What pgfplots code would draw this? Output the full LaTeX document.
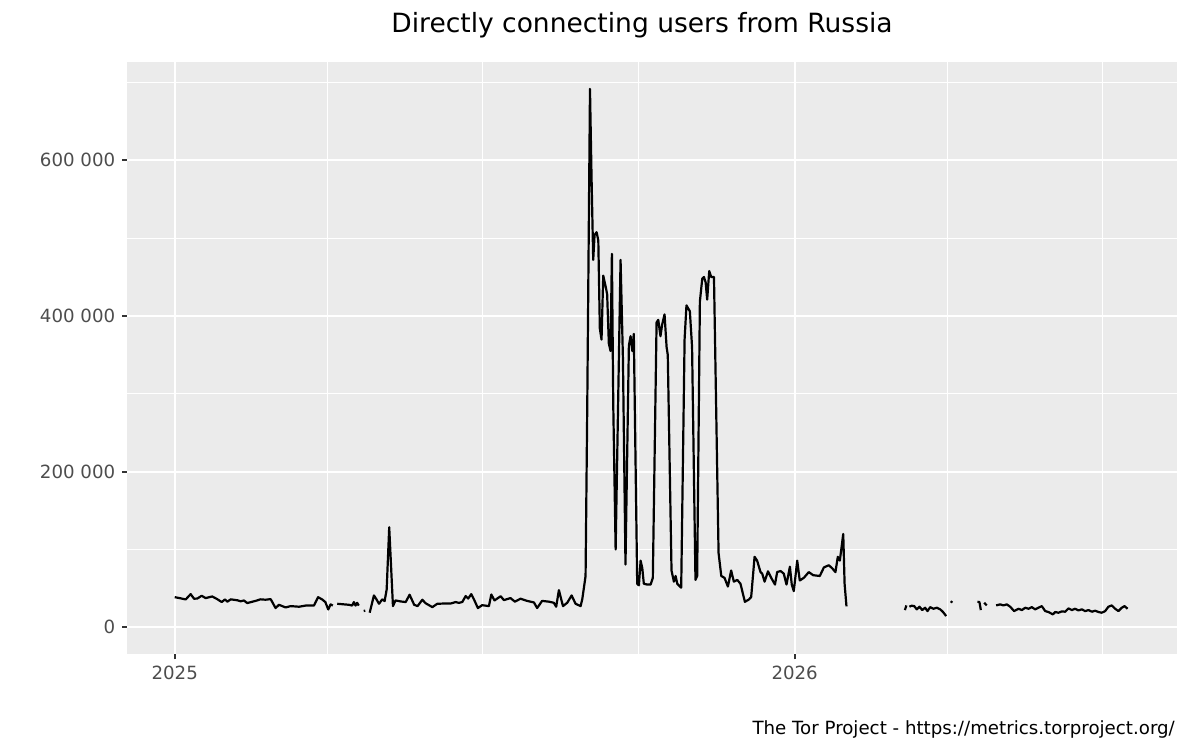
\documentclass[border=0pt]{standalone}
\usepackage{fontspec}
\setmainfont{DejaVu Sans}
\usepackage{pgfplots}
\pgfplotsset{compat=1.18}
\definecolor{panelgray}{HTML}{EBEBEB}
\definecolor{labelgray}{HTML}{4D4D4D}
\definecolor{tickgray}{HTML}{333333}
\begin{document}
\begin{tikzpicture}[x=1pt,y=1pt]
\useasboundingbox (0,0) rectangle (600,375);
\begin{axis}[
  at={(63.65pt,47.85pt)}, anchor=south west,
  scale only axis, width=524.85pt, height=296.3pt,
  xmin=-27.9, xmax=590.1, ymin=-34600, ymax=726600,
  axis background/.style={fill=panelgray},
  axis line style={draw=none},
  xtick={0,365}, xticklabels={2025,2026},
  minor xtick={90,181,273,455,546},
  ytick={0,200000,400000,600000},
  yticklabels={0,200 000,400 000,600 000},
  minor ytick={100000,300000,500000,700000},
  scaled y ticks=false,
  grid=both,
  major grid style={white, line width=1.05pt},
  minor grid style={white, line width=0.55pt},
  xtick pos=left, ytick pos=left,
  tick align=outside,
  major tick length=2.5pt, minor tick length=0pt,
  major tick style={line width=1pt, color=tickgray},
  ticklabel style={font=\fontsize{9.1}{10}\selectfont, color=labelgray},
  unbounded coords=jump,
]
\addplot[black, line width=1.1pt, line join=round] coordinates {
(0,38800) (3,37500) (6.5,35900) (9.4,42700) (11.4,36800) (13.3,37000) (15.9,40600)
(18.2,37600) (22.1,39700) (25,36300) (27.7,32500) (29.6,35900) (31,33000) (33,36000)
(36.9,34800) (38.8,33500) (40.8,34500) (42.7,31200) (47.6,34000) (50.5,36000)
(53.5,35500) (56.5,36300) (59.4,24800) (61.4,29000) (65.3,25600) (68.3,27300)
(73.2,26500) (77.1,28000) (82,28000) (84.4,38800) (86.8,35900) (88.7,32500)
(90.4,23000) (91.8,29500) (93.1,28000)
(94.4,nan)
(95.7,30300) (102.6,29000) (104.5,28000) (105.5,32500) (106.5,28000) (107.4,31500) (108.4,28000)
(110,nan)
(111.3,21000) (112.2,21500)
(113.5,nan)
(114.8,18800) (117.3,41000) (118.7,36300) (120.3,30300) (122.2,36000) (123.6,33800)
(124.8,48700) (126.3,128600) (128.5,27300) (130,34600) (133,33300) (136,32500)
(138.3,41900) (141,29000) (143,27300) (145.8,35500) (147.7,31000) (151.7,26000)
(154.6,30300) (158.5,30600) (162.4,30600) (165.4,32500) (167.3,31500) (169.3,32500)
(171.3,40200) (172.8,37000) (174.6,42700) (176.2,35900) (178.5,24800) (181,28500)
(185,27300) (186.4,42200) (188.3,34600) (191.9,40000) (193.8,35000) (197.7,37600)
(200.3,33000) (203.6,36800) (207.5,34000) (211.5,32000) (213.4,24800) (216.3,34000)
(220.3,33000) (223.2,31600) (224.6,26500) (226.2,47800) (228.6,27300) (231.1,31600)
(233.7,41000) (236,30300) (239,27300) (240,36700) (241.9,66000) (242.9,286000)
(244.5,691700) (245.4,580000) (246.4,472000) (247.2,504000) (248.4,507600)
(249.4,497000) (250.3,384000) (251.3,369600) (252.3,451800) (253.7,438000)
(254.6,428000) (255.6,364700) (256.6,355000) (257.4,479700) (258.2,286000)
(259.6,100000) (262.5,472000) (263.9,345000) (265.4,80800) (267.4,362000)
(268.4,374000) (269.4,355000) (270.3,377000) (272.3,56000) (273.3,54000)
(274.3,85700) (275.3,75900) (276.2,56000) (278.2,55000) (280.2,55000) (281.5,63600)
(283.7,391600) (284.7,395000) (286,374000) (287,389000) (288.4,402000) (289.6,360000)
(290.3,350000) (292.5,73000) (293.9,58700) (294.9,66000) (295.9,56000) (298.2,51000)
(300.2,370000) (301.3,413600) (303.3,406000) (304.6,360000) (306.6,61000) (307.6,66000)
(309.2,418500) (310.6,448000) (311.6,450000) (312.6,443000) (313.5,421000)
(314.7,457700) (315.9,450000) (317.5,450000) (320.2,95500) (321.8,66000)
(323.7,63600) (325.7,52400) (327.6,73000) (329.2,58700) (331.2,61000) (333.1,56000)
(335.7,32800) (338,35700) (339.4,39000) (341.4,90600) (342.9,85700) (344.9,71000)
(345.9,69000) (347.3,58700) (349.3,72000) (351.2,63600) (353.4,55000) (354.7,71000)
(356.7,72400) (358.6,69000) (360.2,55000) (362.2,78000) (363.3,55000) (364.5,46500)
(366.5,85700) (368,60200) (370.4,63600) (373.3,71000) (375.9,67000) (379.8,66000)
(382.2,77000) (385.1,79800) (387.1,75900) (389,71000) (390.4,90600) (391.6,85700)
(393.6,120000) (394.4,56000) (395.5,27000)
(410,nan)
(429.9,22200) (430.8,28200)
(431.7,nan)
(432.6,26500) (433.8,27800) (435.4,27300) (436.9,23100) (438.5,26500) (440.1,22200)
(441.8,25200) (443.2,20900) (444.8,26000) (446.7,23900) (448.7,25200) (450.7,23100)
(452.2,20100) (454.2,14500)
(455.6,nan)
(457,31600) (457.7,33800)
(465,nan)
(472.6,32900) (473.8,32500) (474.6,22200)
(475.6,nan)
(476.6,31600) (478.1,28200)
(481,nan)
(483.6,28200) (486,29500) (487.9,28200) (489.9,29500) (491.9,26500) (494.2,20900)
(496.8,23900) (498.8,22200) (500.7,25200) (502.7,23900) (504.6,26000) (506.6,23100)
(508.5,25200) (510.5,27300) (512.5,20900) (514.4,19700) (517,16700) (518.4,19700)
(520.3,18800) (522.3,20500) (524.3,20100) (526.2,24400) (528.2,22200) (530.1,23900)
(532.1,21800) (534.1,23100) (536,20900) (538,22200) (540,20100) (541.9,21400)
(543.9,19700) (545.8,18800) (547.8,20900) (549.7,26500) (551.7,28200) (553.7,23900)
(555.6,20900) (557.6,25200) (559.2,27300) (561,23900)
};
\end{axis}
\node[anchor=base, inner sep=0pt, font=\fontsize{13.25}{15}\selectfont] at (321,358.6) {Directly connecting users from Russia};
\node[anchor=base east, inner sep=0pt, font=\fontsize{9.1}{10}\selectfont] at (587.6,7.8) {The Tor Project - https://metrics.torproject.org/};
\end{tikzpicture}
\end{document}
